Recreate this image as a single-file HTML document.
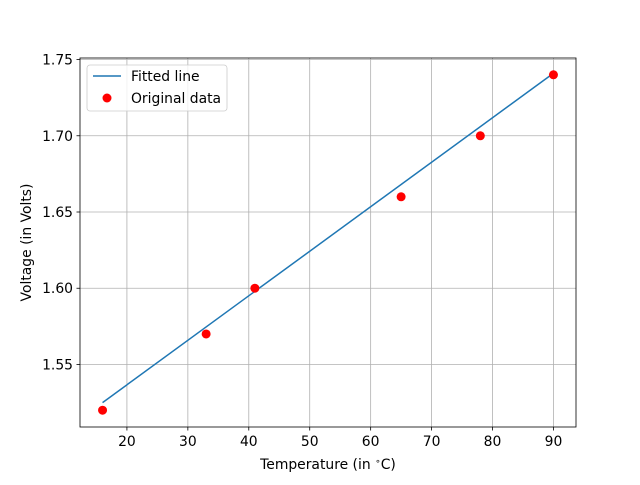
<!DOCTYPE html>
<html><head><meta charset="utf-8"><style>
html,body{margin:0;padding:0;background:#fff;}
svg text{font-family:"DejaVu Sans","Liberation Sans",sans-serif;fill:#000;}
</style></head><body>
<svg id="chart" width="640" height="480" xmlns="http://www.w3.org/2000/svg"></svg>
<script>
const dataX=[16,33,41,65,78,90];
const dataY=[1.52,1.57,1.60,1.66,1.70,1.74];
const fitX=[16,90];
const fitY=[1.525,1.741];
const xTicks=[20,30,40,50,60,70,80,90];
const yTicks=[1.55,1.60,1.65,1.70,1.75];
const yTickLabels=["1.55","1.60","1.65","1.70","1.75"];

const L=80,R=576,T=58,B=427;
const xmin=12.3,xmax=93.7,ymin=1.509,ymax=1.751;
const sx=v=>L+(v-xmin)/(xmax-xmin)*(R-L);
const sy=v=>B-(v-ymin)/(ymax-ymin)*(B-T);
const svg=document.getElementById('chart');
const NS='http://www.w3.org/2000/svg';
const FS='13.9px';
function mk(tag,attrs,parent){const e=document.createElementNS(NS,tag);for(const k in attrs)e.setAttribute(k,attrs[k]);(parent||svg).appendChild(e);return e;}

const grid=mk('g',{});


xTicks.forEach(v=>{const x=sx(v);
 mk('line',{x1:x,x2:x,y1:T,y2:B,stroke:'#b0b0b0','stroke-width':0.8},grid);
 mk('line',{x1:x,x2:x,y1:B,y2:B+3.5,stroke:'#000','stroke-width':0.8});
 const t=mk('text',{x:x,y:B+19,'text-anchor':'middle','font-size':FS});t.textContent=v;
 
 
});
yTicks.forEach((v,i)=>{const y=sy(v);
 mk('line',{x1:L,x2:R,y1:y,y2:y,stroke:'#b0b0b0','stroke-width':0.8},grid);
 mk('line',{x1:L-3.5,x2:L,y1:y,y2:y,stroke:'#000','stroke-width':0.8});
 const t=mk('text',{x:L-7,y:y+5,'text-anchor':'end','font-size':FS});t.textContent=yTickLabels[i];
 
 
});

const line=mk('polyline',{points:fitX.map((x,i)=>sx(x)+','+sy(fitY[i])).join(' '),fill:'none',stroke:'#1f77b4','stroke-width':1.5});



dataX.forEach((x,i)=>{const c=mk('circle',{cx:sx(x),cy:sy(dataY[i]),r:4.5,fill:'#ff0000'});
 
 
});

const frame=mk('rect',{x:L,y:T,width:R-L,height:B-T,fill:'none',stroke:'#000','stroke-width':0.8});



const xt=mk('text',{x:(L+R)/2,y:469,'text-anchor':'middle','font-size':FS});
xt.innerHTML='Temperature (in <tspan dy="-5" font-size="9px">\u2218</tspan><tspan dy="5">C)</tspan>';


const yt=mk('text',{x:31,y:(T+B)/2,'text-anchor':'middle','font-size':FS,transform:'rotate(-90 31 '+((T+B)/2)+')'});
yt.textContent='Voltage (in Volts)';



const lg=mk('g',{});


mk('rect',{x:87,y:65,width:140,height:46,rx:3,fill:'#fff','fill-opacity':0.8,stroke:'#ccc','stroke-width':0.8},lg);
mk('line',{x1:93,x2:121,y1:76,y2:76,stroke:'#1f77b4','stroke-width':1.5},lg);
const l1=mk('text',{x:131,y:81,'font-size':FS},lg);l1.textContent='Fitted line';


mk('circle',{cx:107,cy:98,r:4.5,fill:'#ff0000'},lg);
const l2=mk('text',{x:131,y:103,'font-size':FS},lg);l2.textContent='Original data';


</script>
</body></html>
